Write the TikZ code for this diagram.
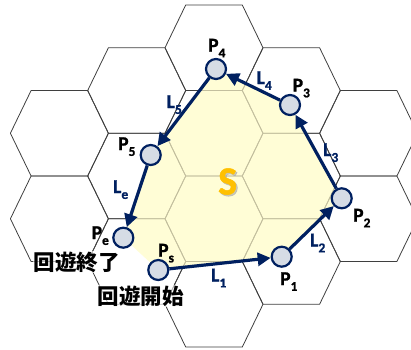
\documentclass[tikz,border=0pt]{standalone}
\usepackage{fontspec}
\setmainfont{Carlito}[BoldFeatures={FakeBold=1.2}]
\newfontfamily\jpfont{Noto Sans CJK JP}
\usetikzlibrary{arrows.meta}
\definecolor{navy}{HTML}{002060}
\definecolor{ptfill}{HTML}{D6DCE5}
\definecolor{gridc}{HTML}{3F3F3F}
\definecolor{tanc}{HTML}{C3BF9E}
\definecolor{syel}{HTML}{FFFDD6}
\definecolor{sgold}{HTML}{FFC000}
\newcommand\subx[1]{\raisebox{-0.3em}{\fontsize{13.5}{13.5}\selectfont #1}}
\tikzset{
  gridline/.style={draw=gridc, line width=0.8pt, line join=round},
  innerline/.style={draw=tanc, line width=0.8pt, line join=round},
  ptnode/.style={circle, draw=navy, fill=ptfill, line width=2.2pt, minimum size=20pt, inner sep=0pt},
  arr/.style={draw=navy, line width=3.2pt, -{Triangle[length=13pt,width=13pt]}},
  plab/.style={font=\fontsize{19.5}{19.5}\selectfont\bfseries, text=black, inner sep=0pt, anchor=base west},
  llab/.style={font=\fontsize{19.5}{19.5}\selectfont\bfseries, text=navy, inner sep=0pt, anchor=base west},
  jplab/.style={font=\jpfont\bfseries\fontsize{21.5}{21.5}\selectfont, text=black, inner sep=0.5pt, fill=white, fill opacity=0.6, text opacity=1},
}
\newcommand\hexcenters{59.4/133.25, 59.4/218.75, 136.7/90.5, 136.7/176, 136.7/261.5, 214/47.75, 214/133.25, 214/218.75, 214/304.25, 291.3/90.5, 291.3/176, 291.3/261.5, 368.6/133.25, 368.6/218.75}
\begin{document}
\begin{tikzpicture}[x=1pt,y=-1pt]
\useasboundingbox (0,0) rectangle (411,349);
% points
\coordinate (cPs) at (158.3,270);
\coordinate (cP1) at (281.7,256.7);
\coordinate (cP2) at (341.7,198.3);
\coordinate (cP3) at (290,105);
\coordinate (cP4) at (216,69);
\coordinate (cP5) at (150.7,155);
\coordinate (cPe) at (123.3,237.7);
% grid
\foreach \cx/\cy in \hexcenters {
  \draw[gridline] ({\cx-49},{\cy}) -- ({\cx-28.3},{\cy-42.75}) -- ({\cx+28.3},{\cy-42.75}) -- ({\cx+49},{\cy}) -- ({\cx+28.3},{\cy+42.75}) -- ({\cx-28.3},{\cy+42.75}) -- cycle;
}
% region S
\fill[syel] (cPs) -- (cP1) -- (cP2) -- (cP3) -- (cP4) -- (cP5) -- (cPe) -- cycle;
\begin{scope}
\clip (cPs) -- (cP1) -- (cP2) -- (cP3) -- (cP4) -- (cP5) -- (cPe) -- cycle;
\foreach \cx/\cy in \hexcenters {
  \draw[innerline] ({\cx-49},{\cy}) -- ({\cx-28.3},{\cy-42.75}) -- ({\cx+28.3},{\cy-42.75}) -- ({\cx+49},{\cy}) -- ({\cx+28.3},{\cy+42.75}) -- ({\cx-28.3},{\cy+42.75}) -- cycle;
}
\end{scope}
% S label with shadow
\fill[black!35, opacity=0.6] (219.5,196) node[font=\fontsize{40}{40}\selectfont\bfseries, text=black!35, inner sep=0pt, anchor=base west] (Sshadow) {S};
\node[font=\fontsize{40}{40}\selectfont\bfseries, text=sgold, inner sep=0pt, anchor=base west] (S) at (218,194.5) {S};
% circles
\node[ptnode] (Ps) at (cPs) {};
\node[ptnode] (P1) at (cP1) {};
\node[ptnode] (P2) at (cP2) {};
\node[ptnode] (P3) at (cP3) {};
\node[ptnode] (P4) at (cP4) {};
\node[ptnode] (P5) at (cP5) {};
\node[ptnode] (Pe) at (cPe) {};
% arrows
\draw[arr] (Ps) -- (P1);
\draw[arr] (P1) -- (P2);
\draw[arr] (P2) -- (P3);
\draw[arr] (P3) -- (P4);
\draw[arr] (P4) -- (P5);
\draw[arr] (P5) -- (Pe);
% point labels
\node[plab] (lP4) at (208,51.5) {P\subx{4}};
\node[plab] (lP3) at (292.5,91.5) {P\subx{3}};
\node[plab] (lP2) at (353,221.5) {P\subx{2}};
\node[plab] (lP1) at (280,285) {P\subx{1}};
\node[plab] (lPs) at (158,256.5) {P\subx{s}};
\node[plab] (lPe) at (91.5,239) {P\subx{e}};
\node[plab] (lP5) at (118,150) {P\subx{5}};
% segment labels
\node[llab] (lL5) at (166.5,108) {L\subx{5}};
\node[llab] (lL4) at (256.5,84) {L\subx{4}};
\node[llab] (lL3) at (323,156) {L\subx{3}};
\node[llab] (lL2) at (310,246.5) {L\subx{2}};
\node[llab] (lL1) at (211,281.5) {L\subx{1}};
\node[llab] (lLe) at (113,193) {L\subx{e}};
% Japanese labels
\node[jplab] (tEnd) at (76.5,262) {回遊終了};
\node[jplab] (tStart) at (140.5,296) {回遊開始};
\end{tikzpicture}
\end{document}
